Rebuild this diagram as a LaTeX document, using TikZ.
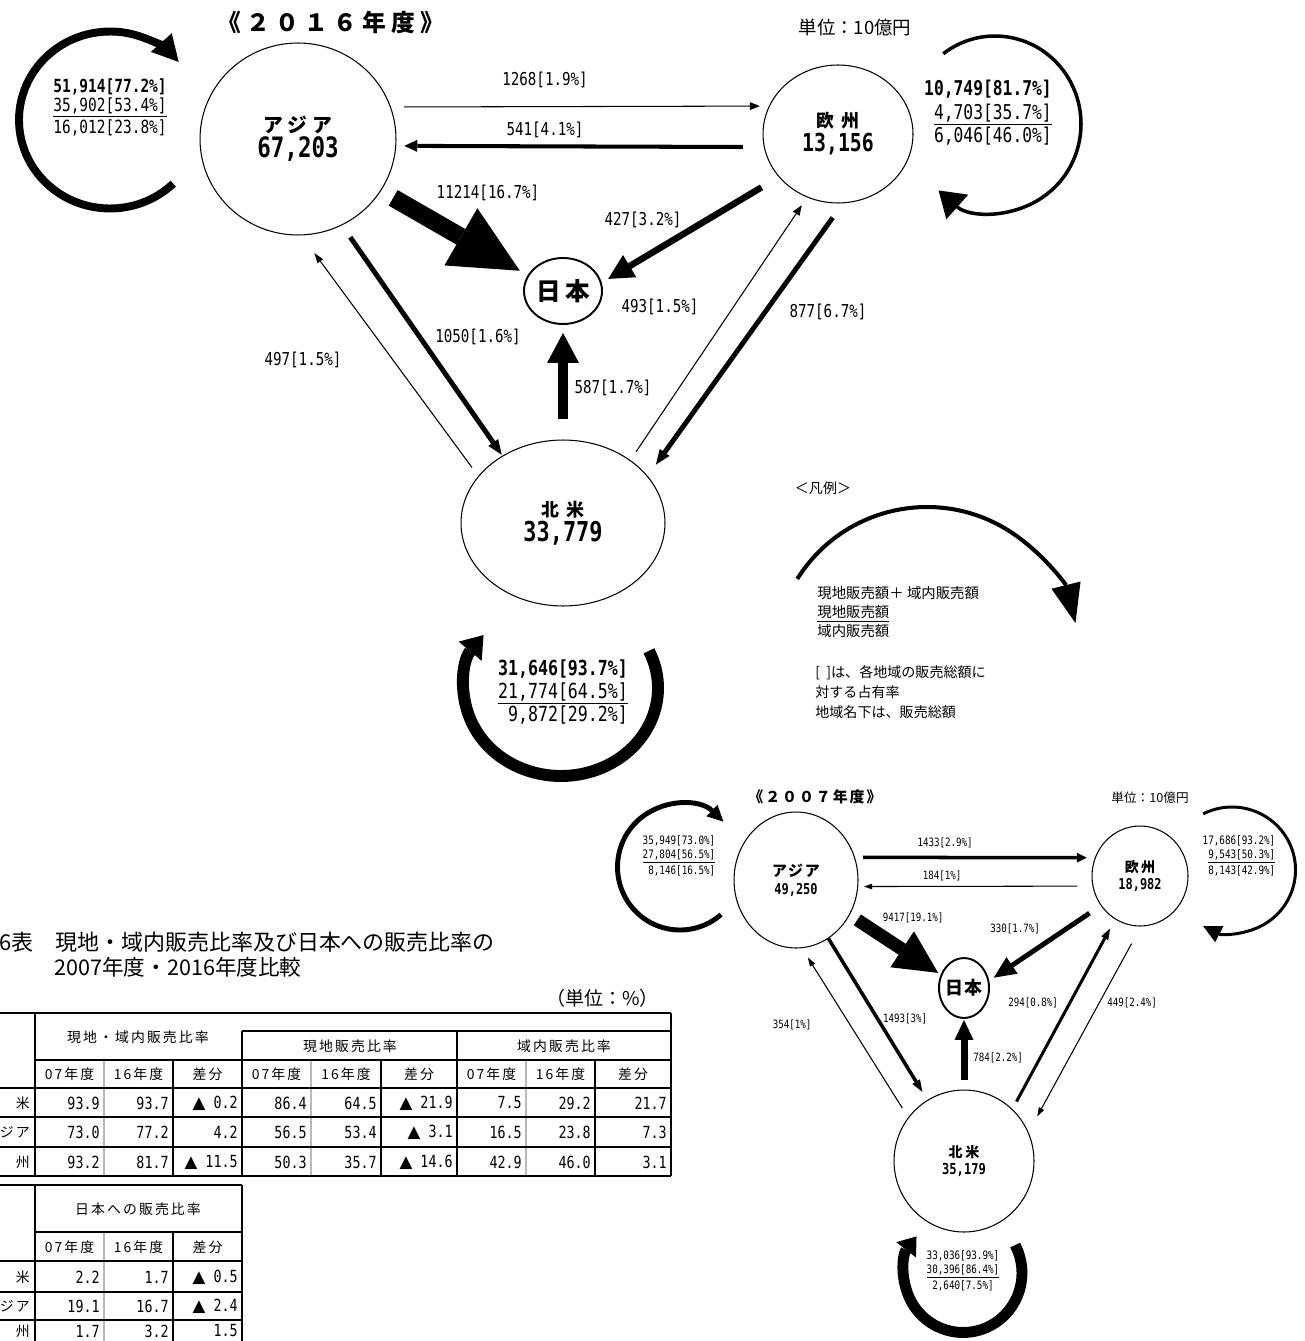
\documentclass[tikz,border=0pt]{standalone}
\usepackage{fontspec}
\setmainfont{Noto Sans CJK JP}
\newfontfamily\numf{DejaVu Sans Mono}[FakeStretch=0.8]
\newfontfamily\symf{DejaVu Sans}
\usetikzlibrary{shapes.geometric, arrows.meta, positioning}

\newcommand{\sz}[2]{\fontsize{#1pt}{#2pt}\selectfont}
\newcommand{\spc}[1]{\addfontfeatures{LetterSpace=#1}}
\newcommand{\tri}{{\symf ▲}}

\begin{document}
\begin{tikzpicture}[
    x=0.02cm, y=-0.02cm,
    region/.style={ellipse, draw=black, line width=0.6pt, inner sep=0pt, align=center},
    japan/.style={region, line width=1.1pt, inner sep=-0.2cm},
    flow/.style n args={3}{line width=#1, -{Triangle[length=#2, width=#3, line width=0pt]}},
    lbl/.style={font=\numf\sz{10.1}{12}, inner sep=0pt},
    lblsm/.style={font=\numf\sz{6.5}{8}, inner sep=0pt},
    selftext/.style={inner sep=0pt, align=right},
    thead/.style={font=\sz{7.9}{9.5}\spc{15}, inner sep=0pt},
    tnum/.style={font=\numf\sz{9.5}{11}, inner sep=0pt, anchor=east},
    tline/.style={line width=1.3pt},
    tgrey/.style={line width=1.3pt, draw=gray!55}
]
\path[use as bounding box, fill=white] (0,0) rectangle (1304,1341);

% ---- 2016 ----
\node[font=\bfseries\sz{13.5}{16}\spc{22}] (title16) at (331,22) {《２０１６年度》};
\node[font=\sz{10.5}{12}] (unit16) at (855,27) {単位：10億円};

\node[region, minimum width=3.92cm, minimum height=3.84cm, font=\sz{10}{14.2}] (asiaA) at (298,139)
  {{\bfseries\sz{11.3}{14.2}\spc{25}アジア}\\{\numf\bfseries\sz{16}{14.2}67,203}};
\node[region, minimum width=3cm, minimum height=2.76cm, font=\sz{10}{13.6}] (euroA) at (838,134)
  {{\bfseries\sz{10.2}{13.6}\spc{35}欧州}\\{\numf\bfseries\sz{14.1}{13.6}13,156}};
\node[japan, minimum width=1.56cm, minimum height=1.32cm, inner sep=-0.3cm, font=\bfseries\sz{14}{15}\spc{18}] (japanA) at (563,291) {日本};
\node[region, minimum width=4.08cm, minimum height=3.32cm, font=\sz{10}{14.2}] (naA) at (563,523)
  {{\bfseries\sz{10.2}{14.2}\spc{35}北米}\\{\numf\bfseries\sz{15.6}{14.2}33,779}};

% self loops
\coordinate (asiaLoopA) at (110,120);
\coordinate (euroLoopA) at (995,124);
\coordinate (naLoopA) at (561,688);
\draw[flow={4.5pt}{0.52cm}{0.56cm}] (asiaLoopA) ++(-46:1.82cm and 1.77cm) arc[start angle=-46, end angle=-319, x radius=1.82cm, y radius=1.77cm];
\draw[flow={2pt}{0.5cm}{0.66cm}] (euroLoopA) ++(127:1.72cm and 1.76cm) arc[start angle=127, end angle=-131, x radius=1.72cm, y radius=1.76cm];
\draw[flow={6.8pt}{0.42cm}{0.6cm}] (naLoopA) ++(25:1.94cm and 1.76cm) arc[start angle=25, end angle=-217, x radius=1.94cm, y radius=1.76cm];

\node[selftext, font=\numf\sz{10.3}{11}] (asiaSelfA) at (110,107) {\textbf{51,914[77.2\%]}\\\underline{35,902[53.4\%]}\\16,012[23.8\%]};
\node[selftext, font=\numf\sz{11.6}{13.3}] (euroSelfA) at (988,113) {\textbf{10,749[81.7\%]}\\\underline{4,703[35.7\%]}\\6,046[46.0\%]};
\node[selftext, font=\numf\sz{11.8}{13.3}] (naSelfA) at (563,692) {\textbf{31,646[93.7\%]}\\\underline{21,774[64.5\%]}\\9,872[29.2\%]};

% flows
\draw[flow={0.6pt}{0.2cm}{0.16cm}, shorten <=0.26cm, shorten >=0.18cm] (asiaA.19) -- (euroA.158);
\draw[flow={2.3pt}{0.26cm}{0.24cm}, shorten <=0.42cm, shorten >=0.16cm] (euroA.190) -- (asiaA.-4);
\draw[flow={10.2pt}{1.36cm}{1.32cm}, shorten <=0.28cm, shorten >=0.18cm] (asiaA.-32) -- (japanA.156);
\draw[flow={3.7pt}{0.5cm}{0.52cm}, shorten <=0.4cm, shorten >=0.15cm] (euroA.216) -- (japanA.12);
\draw[flow={2.8pt}{0.3cm}{0.24cm}, shorten <=0.29cm, shorten >=0.02cm] (asiaA.-63) -- (naA.132);
\draw[flow={0.6pt}{0.2cm}{0.14cm}, shorten <=0.21cm, shorten >=0.44cm] (naA.151) -- (asiaA.-88);
\draw[flow={5.7pt}{0.6cm}{0.64cm}, shorten <=0.4cm, shorten >=0.16cm] (naA.north) -- (japanA.south);
\draw[flow={0.6pt}{0.2cm}{0.16cm}, shorten <=0.2cm, shorten >=0.19cm] (naA.43) -- (euroA.244);
\draw[flow={2.8pt}{0.3cm}{0.24cm}, shorten <=0.35cm, shorten >=0.28cm] (euroA.274) -- (naA.29);

\node[lbl] (l1268) at (545,80) {1268[1.9\%]};
\node[lbl] (l541) at (545,130) {541[4.1\%]};
\node[lbl] (l11214) at (488,193) {11214[16.7\%]};
\node[lbl] (l427) at (643,220) {427[3.2\%]};
\node[lbl] (l493) at (660,307) {493[1.5\%]};
\node[lbl] (l877) at (828,312) {877[6.7\%]};
\node[lbl] (l1050) at (478,337) {1050[1.6\%]};
\node[lbl] (l497) at (303,360) {497[1.5\%]};
\node[lbl] (l587) at (613,388) {587[1.7\%]};

% ---- legend ----
\node[font=\sz{8}{10}, inner sep=0pt] (legendHead) at (823,488) {＜凡例＞};
\coordinate (legendLoop) at (927,660);
\draw[flow={2.3pt}{0.78cm}{0.6cm}] (legendLoop) ++(148:3.06cm) arc[start angle=148, end angle=14, radius=3.06cm];
\node[anchor=west, align=left, inner sep=0pt, font=\sz{8.2}{11}] (legendText) at (817,612) {現地販売額＋ 域内販売額\\\underline{現地販売額}\\域内販売額};
\node[anchor=west, align=left, inner sep=0pt, font=\sz{8}{11.3}] (legendNote) at (815,692) {[\ \ ]は、各地域の販売総額に\\対する占有率\\地域名下は、販売総額};

% ---- 2007 ----
\node[font=\bfseries\sz{8.5}{10}\spc{13}] (title07) at (815,797) {《２００７年度》};
\node[font=\sz{7.2}{9}] (unit07) at (1150,798) {単位：10億円};

\node[region, minimum width=2.48cm, minimum height=2.72cm, font=\sz{8}{10.2}] (asiaB) at (796,880)
  {{\bfseries\sz{8.5}{10.2}\spc{12}アジア}\\{\numf\bfseries\sz{8.5}{10.2}49,250}};
\node[region, minimum width=1.92cm, minimum height=2cm, font=\sz{8}{10.2}] (euroB) at (1140,876)
  {{\bfseries\sz{8}{10.2}\spc{15}欧州}\\{\numf\bfseries\sz{8.5}{10.2}18,982}};
\node[japan, minimum width=1cm, minimum height=1.2cm, font=\bfseries\sz{10.2}{12}\spc{8}] (japanB) at (964,988) {日本};
\node[region, minimum width=2.8cm, minimum height=2.84cm, font=\sz{8}{9.6}] (naB) at (964,1161)
  {{\bfseries\sz{8}{9.6}\spc{20}北米}\\{\numf\bfseries\sz{8.6}{9.6}35,179}};

\coordinate (asiaLoopB) at (680,867);
\coordinate (euroLoopB) at (1232,870);
\coordinate (naLoopB) at (963,1273);
\draw[flow={2.8pt}{0.32cm}{0.32cm}] (asiaLoopB) ++(-49:1.25cm and 1.26cm) arc[start angle=-49, end angle=-314, x radius=1.25cm, y radius=1.26cm];
\draw[flow={1.7pt}{0.36cm}{0.36cm}] (euroLoopB) ++(117:1.27cm and 1.26cm) arc[start angle=117, end angle=-117, x radius=1.27cm, y radius=1.26cm];
\draw[flow={6.2pt}{0.34cm}{0.5cm}] (naLoopB) ++(28:1.18cm and 1.19cm) arc[start angle=28, end angle=-218, x radius=1.18cm, y radius=1.19cm];

\node[selftext, font=\numf\sz{6.6}{7.9}] (asiaSelfB) at (679,856) {35,949[73.0\%]\\\underline{27,804[56.5\%]}\\8,146[16.5\%]};
\node[selftext, font=\numf\sz{6.6}{7.9}] (euroSelfB) at (1239,856) {17,686[93.2\%]\\\underline{9,543[50.3\%]}\\8,143[42.9\%]};
\node[inner sep=0pt, align=center, font=\numf\sz{6.6}{7.9}] (naSelfB) at (963,1271) {33,036[93.9\%]\\\underline{30,396[86.4\%]}\\2,640[7.5\%]};

\draw[flow={2pt}{0.2cm}{0.2cm}, shorten <=0.16cm, shorten >=0.16cm] (asiaB.21) -- (euroB.158);
\draw[flow={0.6pt}{0.16cm}{0.12cm}, shorten <=0.3cm, shorten >=0.12cm] (euroB.192) -- (asiaB.-6);
\draw[flow={7.4pt}{0.86cm}{0.86cm}, shorten <=0.18cm, shorten >=0.06cm] (asiaB.-33) -- (japanB.150);
\draw[flow={2.8pt}{0.44cm}{0.4cm}, shorten <=0.27cm, shorten >=0.11cm] (euroB.217) -- (japanB.16);
\draw[flow={2pt}{0.24cm}{0.18cm}, shorten >=0.19cm] (asiaB.-61) -- (naB.121);
\draw[flow={0.6pt}{0.18cm}{0.12cm}, shorten <=0.22cm, shorten >=0.22cm] (naB.142) -- (asiaB.-85);
\draw[flow={4pt}{0.4cm}{0.38cm}, shorten <=0.2cm, shorten >=0.02cm] (naB.north) -- (japanB.south);
\draw[flow={1.7pt}{0.22cm}{0.16cm}, shorten <=0.17cm, shorten >=0.21cm] (naB.47) -- (euroB.240);
\draw[flow={0.6pt}{0.18cm}{0.12cm}, shorten <=0.39cm, shorten >=0.36cm] (euroB.271) -- (naB.24);

\node[lblsm] (m1433) at (945,843) {1433[2.9\%]};
\node[lblsm] (m184) at (942,876) {184[1\%]};
\node[lblsm] (m9417) at (913,918) {9417[19.1\%]};
\node[lblsm] (m330) at (1015,929) {330[1.7\%]};
\node[lblsm] (m294) at (1033,1003) {294[0.8\%]};
\node[lblsm] (m449) at (1132,1003) {449[2.4\%]};
\node[lblsm] (m354) at (792,1025) {354[1\%]};
\node[lblsm] (m1493) at (905,1019) {1493[3\%]};
\node[lblsm] (m784) at (998,1058) {784[2.2\%]};

% ---- table ----
\node[anchor=west, inner sep=0pt, font=\sz{12.5}{14}] (tabTitle) at (-1,942) {6表　現地・域内販売比率及び日本への販売比率の};
\node[anchor=west, inner sep=0pt, font=\sz{12.3}{14}] (tabTitleB) at (54,967) {2007年度・2016年度比較};
\node[anchor=east, inner sep=0pt, font=\sz{10.8}{12}] (tabUnit) at (659,998) {（単位：\%）};

\foreach \x in {104,311,526} \draw[tgrey] (\x,1060) -- (\x,1176);
\draw[tline] (0,1013) -- (671,1013);
\draw[tline] (242,1031) -- (671,1031);
\draw[tline] (35,1060) -- (671,1060);
\foreach \y in {1088,1117,1147,1176} \draw[tline] (0,\y) -- (671,\y);
\foreach \x in {35,671} \draw[tline] (\x,1013) -- (\x,1176);
\foreach \x in {242,457} \draw[tline] (\x,1031) -- (\x,1176);
\foreach \x in {173,381,595} \draw[tline] (\x,1060) -- (\x,1176);

\node[thead] (hLocal) at (138,1037) {現地・域内販売比率};
\node[thead] (hOwn) at (350,1046) {現地販売比率};
\node[thead] (hArea) at (564,1046) {域内販売比率};
\foreach \x/\t [count=\i] in {69.5/07年度, 138.5/16年度, 207.5/差分, 276.5/07年度, 346/16年度, 419/差分, 491.5/07年度, 560.5/16年度, 633/差分}
  \node[thead] (hy\i) at (\x,1074) {\t};

\node[thead, anchor=east] (rNA) at (30,1103) {米};
\node[thead, anchor=east] (rAS) at (30,1132) {ジア};
\node[thead, anchor=east] (rEU) at (30,1162) {州};
\foreach \x/\v [count=\i] in {100/93.9, 169/93.7, 238/\tri\ 0.2, 307/86.4, 377/64.5, 453/\tri\ 21.9, 522/7.5, 591/29.2, 667/21.7}
  \node[tnum] (vNA\i) at (\x,1103) {\v};
\foreach \x/\v [count=\i] in {100/73.0, 169/77.2, 238/4.2, 307/56.5, 377/53.4, 453/\tri\ 3.1, 522/16.5, 591/23.8, 667/7.3}
  \node[tnum] (vAS\i) at (\x,1132) {\v};
\foreach \x/\v [count=\i] in {100/93.2, 169/81.7, 238/\tri\ 11.5, 307/50.3, 377/35.7, 453/\tri\ 14.6, 522/42.9, 591/46.0, 667/3.1}
  \node[tnum] (vEU\i) at (\x,1162) {\v};

% Japan share table
\draw[tgrey] (104,1232) -- (104,1345);
\draw[tline] (0,1185) -- (242,1185);
\draw[tline] (35,1232) -- (242,1232);
\foreach \y in {1261,1292,1320} \draw[tline] (0,\y) -- (242,\y);
\foreach \x in {35,242} \draw[tline] (\x,1185) -- (\x,1345);
\draw[tline] (173,1232) -- (173,1345);

\node[thead] (hJapan) at (138,1209) {日本への販売比率};
\foreach \x/\t [count=\i] in {69.5/07年度, 138.5/16年度, 207.5/差分}
  \node[thead] (jy\i) at (\x,1247) {\t};
\node[thead, anchor=east] (jNA) at (30,1277) {米};
\node[thead, anchor=east] (jAS) at (30,1306) {ジア};
\node[thead, anchor=east] (jEU) at (30,1331) {州};
\foreach \x/\v [count=\i] in {100/2.2, 169/1.7, 238/\tri\ 0.5}
  \node[tnum] (wNA\i) at (\x,1277) {\v};
\foreach \x/\v [count=\i] in {100/19.1, 169/16.7, 238/\tri\ 2.4}
  \node[tnum] (wAS\i) at (\x,1306) {\v};
\foreach \x/\v [count=\i] in {100/1.7, 169/3.2, 238/1.5}
  \node[tnum] (wEU\i) at (\x,1331) {\v};

\end{tikzpicture}
\end{document}
